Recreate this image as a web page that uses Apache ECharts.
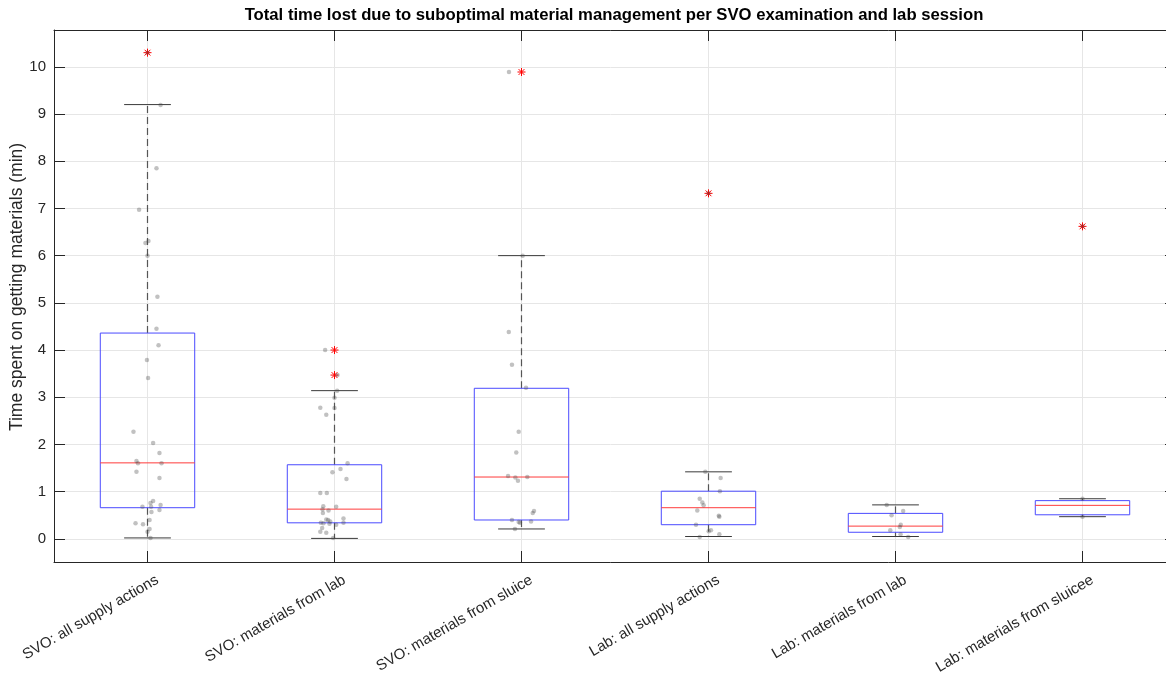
<!DOCTYPE html>
<html><head><meta charset="utf-8">
<script src="https://cdn.jsdelivr.net/npm/echarts@6/dist/echarts.min.js"></script>
<style>html,body{margin:0;padding:0;background:#fff}#c{width:1166px;height:673px}</style>
</head><body><div id="c"></div>
<script>
const titleText = 'Total time lost due to suboptimal material management per SVO examination and lab session';
const yAxisName = 'Time spent on getting materials (min)';
const categories = ['SVO: all supply actions', 'SVO: materials from lab', 'SVO: materials from sluice',
  'Lab: all supply actions', 'Lab: materials from lab', 'Lab: materials from sluicee'];

// box statistics per category
const whiskerLow  = [0.02, 0.01, 0.21, 0.05, 0.05, 0.47];
const quartile1   = [0.66, 0.34, 0.40, 0.30, 0.14, 0.51];
const medians     = [1.61, 0.63, 1.31, 0.66, 0.27, 0.71];
const quartile3   = [4.36, 1.57, 3.19, 1.01, 0.54, 0.81];
const whiskerHigh = [9.20, 3.14, 6.00, 1.42, 0.72, 0.85];
const outliers = [[10.30], [4.00, 3.47], [9.89], [7.32], [], [6.62]];

// individual observations (values) and their horizontal jitter (category units)
const pointValues = [
  [10.30, 9.19, 7.85, 6.97, 6.31, 6.27, 6.00, 5.13, 4.45, 4.10, 3.79, 3.41, 2.27, 2.03, 1.82, 1.65, 1.60, 1.60, 1.42, 1.29, 0.80, 0.76, 0.72, 0.68, 0.68, 0.61, 0.57, 0.40, 0.33, 0.31, 0.21, 0.15, 0.02],
  [4.00, 3.47, 3.14, 2.99, 2.78, 2.77, 2.63, 1.60, 1.48, 1.41, 1.27, 0.97, 0.97, 0.68, 0.69, 0.63, 0.60, 0.55, 0.43, 0.41, 0.40, 0.37, 0.34, 0.33, 0.32, 0.30, 0.34, 0.23, 0.15, 0.13, 0.02],
  [9.89, 6.00, 4.38, 3.69, 3.20, 2.27, 1.83, 1.33, 1.30, 1.31, 1.23, 0.59, 0.55, 0.40, 0.36, 0.34, 0.37, 0.21],
  [7.32, 1.42, 1.29, 1.01, 0.85, 0.77, 0.71, 0.60, 0.49, 0.47, 0.30, 0.18, 0.16, 0.10, 0.04],
  [0.72, 0.59, 0.50, 0.30, 0.25, 0.18, 0.10, 0.04],
  [6.62, 0.85, 0.47]
];
const pointJitter = [
  [0, 0.070, 0.048, -0.045, 0.005, -0.011, 0, 0.053, 0.048, 0.059, -0.003, 0.003, -0.075, 0.030, 0.064, -0.059, -0.051, 0.075, -0.059, 0.064, 0.030, 0.016, 0.070, -0.027, 0.019, 0.064, 0.021, 0.011, -0.064, -0.024, 0.011, 0, 0.016],
  [-0.050, 0.016, 0.014, 0, -0.076, 0, -0.044, 0.070, 0.032, -0.011, 0.064, -0.076, -0.041, 0.009, -0.060, -0.064, -0.032, -0.062, 0.048, -0.044, -0.034, -0.023, -0.073, -0.059, -0.027, 0.009, 0.048, -0.066, -0.076, -0.044, -0.007],
  [-0.067, 0.006, -0.068, -0.051, 0.024, -0.015, -0.028, -0.072, -0.033, 0.031, -0.019, 0.067, 0.060, -0.051, -0.015, -0.008, 0.051, -0.035],
  [0, -0.017, 0.065, 0.061, -0.047, -0.033, -0.026, -0.060, 0.055, 0.058, -0.067, 0.013, 0.001, 0.058, -0.047],
  [-0.047, 0.041, -0.021, 0.028, 0.023, -0.028, 0.027, 0.068],
  [0, 0, 0]
];

const boxData = categories.map((c, i) => [i + 1, whiskerLow[i], quartile1[i], medians[i], quartile3[i], whiskerHigh[i]]);
const outlierData = [];
outliers.forEach((arr, i) => arr.forEach(v => outlierData.push([i + 1, v])));
const scatterData = [];
pointValues.forEach((arr, i) => arr.forEach((v, j) => scatterData.push([i + 1 + pointJitter[i][j], v])));

const FONT = '"Liberation Sans", Arial, sans-serif';
const AX = '#262626';
const GRID = '#e6e6e6';
const LABEL_SHIFT = 0.053; // rotated tick labels sit slightly right of their tick (in category units)

const chart = echarts.init(document.getElementById('c'), null, { renderer: 'canvas' });

const xCommon = {
  type: 'value', min: 0.5, max: 6.5, splitNumber: 6,
  axisLine: { show: true, onZero: false, lineStyle: { color: AX, width: 1 } },
  axisTick: { show: true, inside: true, length: 11, lineStyle: { color: AX, width: 1 } }
};
const yCommon = {
  type: 'value', min: -0.49, max: 10.78, splitNumber: 11,
  axisLine: { show: true, onZero: false, lineStyle: { color: AX, width: 1 } },
  axisTick: { show: true, inside: true, length: 11, lineStyle: { color: AX, width: 1 } }
};

chart.setOption({
  animation: false,
  backgroundColor: '#ffffff',
  graphic: [{
    type: 'text', x: 614, y: 7,
    style: { text: titleText, font: 'bold 16.7px ' + FONT, fill: '#000', textAlign: 'center', textVerticalAlign: 'top' }
  }],
  grid: { left: 54, top: 30, right: -10, bottom: 111, containLabel: false, outerBoundsMode: 'none' },
  xAxis: [
    Object.assign({}, xCommon, {
      position: 'bottom',
      splitLine: { show: true, lineStyle: { color: GRID, width: 1 } },
      axisLabel: { show: false }
    }),
    Object.assign({}, xCommon, {
      position: 'top',
      splitLine: { show: false },
      axisLabel: { show: false }
    }),
    {
      type: 'value', position: 'bottom', min: 0.5 - LABEL_SHIFT, max: 6.5 - LABEL_SHIFT, splitNumber: 6,
      axisLine: { show: false, onZero: false }, axisTick: { show: false }, splitLine: { show: false },
      axisLabel: {
        show: true, rotate: 30, margin: 17, color: AX, fontSize: 15, fontFamily: FONT,
        formatter: v => (Math.abs(v - Math.round(v)) < 1e-6 && Math.round(v) >= 1 && Math.round(v) <= categories.length) ? categories[Math.round(v) - 1] : ''
      }
    }
  ],
  yAxis: [
    Object.assign({}, yCommon, {
      position: 'left',
      name: yAxisName, nameLocation: 'middle', nameGap: 28, nameMoveOverlap: false,
      nameTextStyle: { color: AX, fontSize: 17.5, fontFamily: FONT, padding: [0, 0, 0, 18] },
      splitLine: { show: true, lineStyle: { color: GRID, width: 1 } },
      axisLabel: {
        show: true, margin: 8, color: AX, fontSize: 15, fontFamily: FONT,
        formatter: v => Math.abs(v - Math.round(v)) < 1e-6 ? String(Math.round(v)) : ''
      }
    }),
    Object.assign({}, yCommon, {
      position: 'right',
      splitLine: { show: false },
      axisLabel: { show: false }
    })
  ],
  series: [
    {
      type: 'custom', xAxisIndex: 0, yAxisIndex: 0, data: boxData, z: 2,
      renderItem: function (params, api) {
        const x = api.value(0);
        const lo = api.coord([x, api.value(1)]);
        const q1 = api.coord([x, api.value(2)]);
        const md = api.coord([x, api.value(3)]);
        const q3 = api.coord([x, api.value(4)]);
        const hi = api.coord([x, api.value(5)]);
        const bw = api.size([0.505, 0])[0];
        const cw = api.size([0.25, 0])[0];
        const cx = lo[0];
        const dash = { stroke: '#555555', lineWidth: 1.2, lineDash: [7, 4], fill: null };
        const cap = { stroke: '#3a3a3a', lineWidth: 1, fill: null };
        return {
          type: 'group',
          children: [
            { type: 'line', shape: { x1: cx, y1: q3[1], x2: cx, y2: hi[1] }, style: dash },
            { type: 'line', shape: { x1: cx, y1: q1[1], x2: cx, y2: lo[1] }, style: dash },
            { type: 'line', shape: { x1: cx - cw / 2, y1: hi[1], x2: cx + cw / 2, y2: hi[1] }, style: cap },
            { type: 'line', shape: { x1: cx - cw / 2, y1: lo[1], x2: cx + cw / 2, y2: lo[1] }, style: cap },
            { type: 'rect', shape: { x: cx - bw / 2, y: q3[1], width: bw, height: q1[1] - q3[1] },
              style: { stroke: '#4a4aff', lineWidth: 1, fill: null } },
            { type: 'line', shape: { x1: cx - bw / 2, y1: md[1], x2: cx + bw / 2, y2: md[1] },
              style: { stroke: '#ff3b3b', lineWidth: 1, fill: null } }
          ]
        };
      }
    },
    {
      type: 'custom', xAxisIndex: 0, yAxisIndex: 0, data: outlierData, z: 3,
      renderItem: function (params, api) {
        const p = api.coord([api.value(0), api.value(1)]);
        const r = 4, d = 2.9;
        const st = { stroke: '#ff0000', lineWidth: 1, fill: null };
        return {
          type: 'group',
          children: [
            { type: 'line', shape: { x1: p[0] - r, y1: p[1], x2: p[0] + r, y2: p[1] }, style: st },
            { type: 'line', shape: { x1: p[0], y1: p[1] - r, x2: p[0], y2: p[1] + r }, style: st },
            { type: 'line', shape: { x1: p[0] - d, y1: p[1] - d, x2: p[0] + d, y2: p[1] + d }, style: st },
            { type: 'line', shape: { x1: p[0] - d, y1: p[1] + d, x2: p[0] + d, y2: p[1] - d }, style: st }
          ]
        };
      }
    },
    {
      type: 'scatter', xAxisIndex: 0, yAxisIndex: 0, data: scatterData, z: 4,
      symbol: 'circle', symbolSize: 4.5,
      itemStyle: { color: 'rgba(70,70,70,0.42)' },
      silent: true
    }
  ]
});
</script>
</body></html>
